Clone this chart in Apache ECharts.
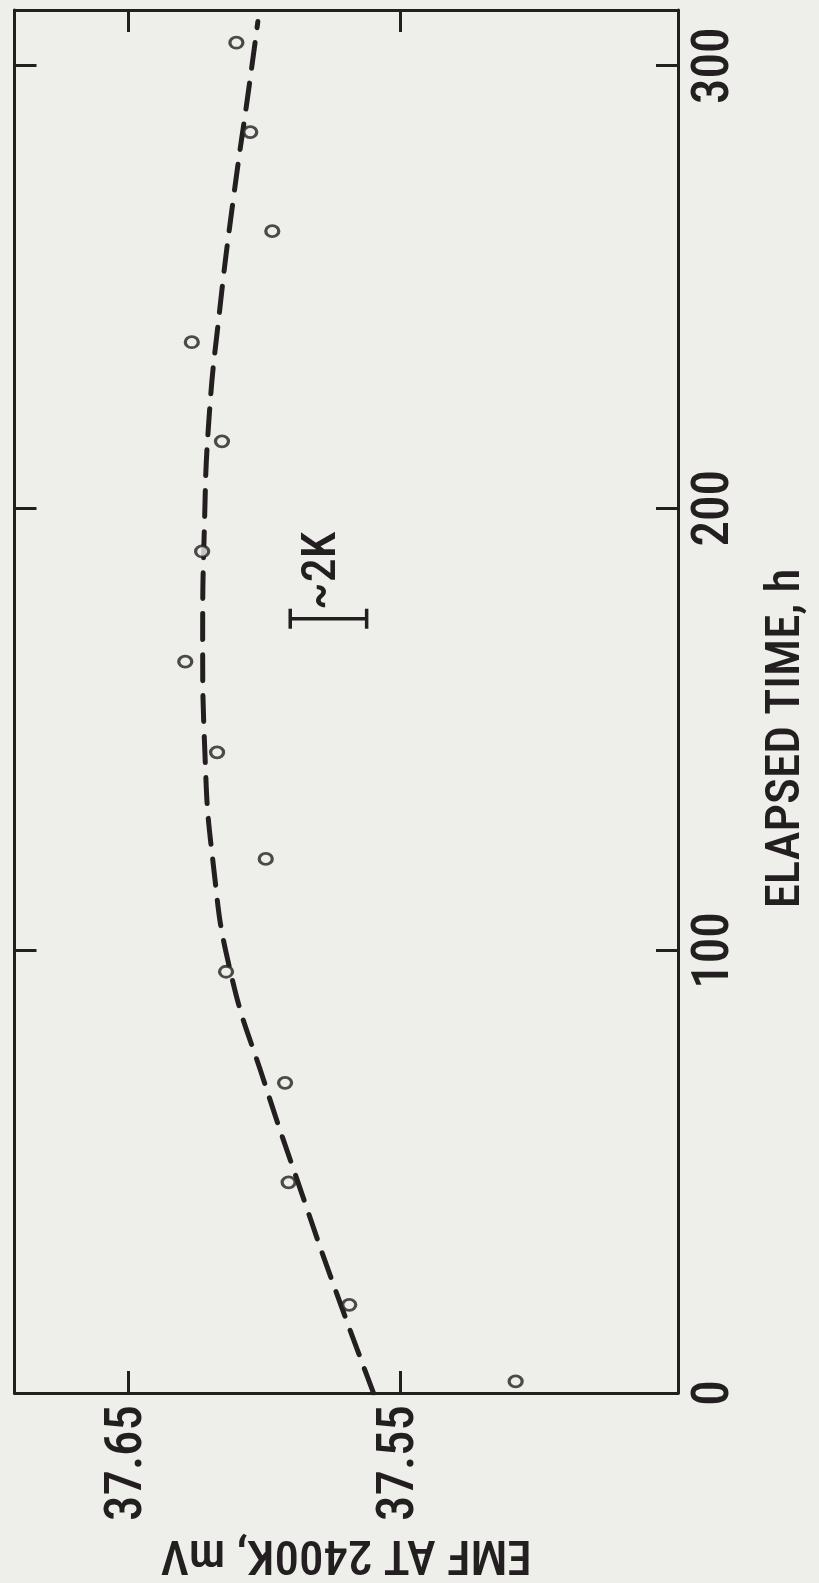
<!DOCTYPE html>
<html>
<head>
<meta charset="utf-8">
<script src="https://cdn.jsdelivr.net/npm/echarts@6/dist/echarts.min.js"></script>
<style>
  html, body { margin: 0; padding: 0; background: #eeeeea; }
  #chart { width: 819px; height: 1583px; }
</style>
</head>
<body>
<div id="chart"></div>
<script>
// Measured EMF of the thermocouple at 2400 K against elapsed time
const hours = [2.6, 19.9, 47.6, 70.1, 95.2, 120.7, 144.8, 165.3, 190.2, 215.1, 237.5, 262.6, 285.0, 305.2];
const emf   = [37.5077, 37.5689, 37.5912, 37.5925, 37.6142, 37.5996, 37.6175, 37.6292, 37.6230, 37.6157, 37.6268, 37.5972, 37.6053, 37.6104];

// Dashed trend curve through the measurements
const trendHours = [0, 25, 45, 70, 95, 120, 145, 170, 195, 220, 245, 270, 295, 310];
const trendEmf   = [37.5600, 37.5750, 37.5863, 37.6000, 37.6125, 37.6190, 37.6220, 37.6228, 37.6222, 37.6205, 37.6165, 37.6115, 37.6058, 37.6025];

// Tick positions
const emfTicks  = [37.55, 37.65];
const hourTicks = [0, 100, 200, 300];

// Scale bar equivalent to about 2 K
const barHour = 175;
const barEmf  = [37.5906, 37.5625];
const barText = '~2K';

const INK = '#231f20';
const BG = '#eeeeea';
const FONT = '"Roboto Condensed", "Open Sans Condensed", "DejaVu Sans Condensed", sans-serif';
const FW = 500;
const FS = 51;
const FS_NAME = 49;

const chart = echarts.init(document.getElementById('chart'), null, { renderer: 'canvas' });

const emfRange = { min: 37.448, max: 37.692 };
const hourRange = { min: 0, max: 312.6 };

function tickStyle(values) {
  return { show: true, inside: true, length: 22, customValues: values, lineStyle: { color: INK, width: 3 } };
}
const axisLine = { show: true, onZero: false, lineStyle: { color: INK, width: 3 } };
const labelText = { fontSize: FS, fontFamily: FONT, fontWeight: FW, color: INK };
const nameText = { fontSize: FS_NAME, fontFamily: FONT, fontWeight: FW, color: INK };

chart.setOption({
  backgroundColor: BG,
  animation: false,
  grid: { left: 14.5, right: 129, top: 10, bottom: 183, containLabel: false, show: false },
  xAxis: [
    {
      type: 'value', position: 'bottom', inverse: true,
      min: emfRange.min, max: emfRange.max,
      axisLine: axisLine,
      axisTick: tickStyle(emfTicks),
      axisLabel: Object.assign({
        customValues: emfTicks, rotate: 90, margin: 12,
        formatter: v => v.toFixed(2)
      }, labelText),
      splitLine: { show: false },
      name: 'EMF AT 2400K, mV', nameLocation: 'middle', nameRotate: 180, nameGap: 130,
      nameTextStyle: nameText
    },
    {
      type: 'value', position: 'top', inverse: true,
      min: emfRange.min, max: emfRange.max,
      axisLine: axisLine,
      axisTick: tickStyle(emfTicks),
      axisLabel: { show: false },
      splitLine: { show: false }
    }
  ],
  yAxis: [
    {
      type: 'value', position: 'right',
      min: hourRange.min, max: hourRange.max,
      axisLine: axisLine,
      axisTick: tickStyle(hourTicks),
      axisLabel: Object.assign({ customValues: hourTicks, rotate: 90, margin: 12 }, labelText),
      splitLine: { show: false },
      name: 'ELAPSED TIME, h', nameLocation: 'middle', nameRotate: 90, nameGap: 84,
      nameTextStyle: Object.assign({ padding: [0, 74, 0, 0] }, nameText)
    },
    {
      type: 'value', position: 'left',
      min: hourRange.min, max: hourRange.max,
      axisLine: axisLine,
      axisTick: tickStyle(hourTicks),
      axisLabel: { show: false },
      splitLine: { show: false }
    }
  ],
  series: [
    {
      type: 'line', name: 'trend',
      data: trendHours.map((h, i) => [trendEmf[i], h]),
      smooth: true, symbol: 'none', z: 2,
      lineStyle: { color: INK, width: 5, type: [26, 15], cap: 'round' }
    },
    {
      type: 'scatter', name: 'measured',
      data: hours.map((h, i) => [emf[i], h]),
      symbol: 'circle', symbolSize: [13, 11], z: 3,
      itemStyle: { color: BG, borderColor: INK, borderWidth: 3 }
    },
    {
      type: 'line', name: 'scale',
      data: barEmf.map(e => [e, barHour]),
      symbol: 'rect', symbolSize: [3.5, 20], z: 3,
      itemStyle: { color: INK },
      lineStyle: { color: INK, width: 3.4 }
    }
  ]
});

// Label of the scale bar, placed next to its high-EMF end
const p = chart.convertToPixel({ xAxisIndex: 0, yAxisIndex: 0 }, [barEmf[0], barHour]);
chart.setOption({
  graphic: [{
    type: 'text', x: p[0] + 33, y: p[1] - 9, rotation: Math.PI / 2,
    style: { text: barText, fontSize: FS - 3, fontFamily: FONT, fontWeight: FW, fill: INK, align: 'left', verticalAlign: 'middle' }
  }]
});
</script>
</body>
</html>
